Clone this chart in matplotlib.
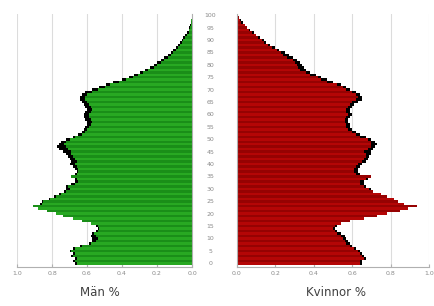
import numpy as np
import matplotlib
matplotlib.use("Agg")
import matplotlib.pyplot as plt

# ages 0..100, share of population (%) per single year of age
ages = list(range(101))

men = [0.66, 0.67, 0.66, 0.68, 0.67, 0.69, 0.67, 0.63, 0.58, 0.55,
       0.54, 0.55, 0.56, 0.54, 0.53, 0.54, 0.58, 0.63, 0.68, 0.74,
       0.78, 0.83, 0.88, 0.91, 0.86, 0.85, 0.81, 0.78, 0.75, 0.72,
       0.70, 0.71, 0.67, 0.65, 0.66, 0.69, 0.66, 0.65, 0.65, 0.66,
       0.67, 0.66, 0.67, 0.68, 0.69, 0.69, 0.71, 0.72, 0.73, 0.72,
       0.70, 0.67, 0.63, 0.61, 0.60, 0.59, 0.58, 0.57, 0.58, 0.59,
       0.59, 0.58, 0.57, 0.58, 0.59, 0.60, 0.61, 0.61, 0.60, 0.57,
       0.54, 0.50, 0.47, 0.42, 0.38, 0.34, 0.31, 0.28, 0.25, 0.22,
       0.20, 0.18, 0.16, 0.14, 0.12, 0.11, 0.09, 0.08, 0.07, 0.06,
       0.05, 0.04, 0.03, 0.02, 0.015, 0.01, 0.008, 0.005, 0.003, 0.002,
       0.001]

men_prev = [0.67, 0.68, 0.67, 0.69, 0.68, 0.70, 0.68, 0.64, 0.59, 0.57,
            0.57, 0.58, 0.57, 0.55, 0.54, 0.55, 0.58, 0.63, 0.68, 0.74,
            0.78, 0.83, 0.88, 0.91, 0.87, 0.86, 0.82, 0.79, 0.76, 0.73,
            0.72, 0.72, 0.69, 0.67, 0.67, 0.69, 0.67, 0.66, 0.67, 0.68,
            0.70, 0.69, 0.70, 0.71, 0.72, 0.74, 0.76, 0.77, 0.76, 0.75,
            0.72, 0.68, 0.65, 0.63, 0.62, 0.61, 0.60, 0.60, 0.61, 0.62,
            0.62, 0.61, 0.60, 0.61, 0.62, 0.63, 0.64, 0.64, 0.63, 0.61,
            0.57, 0.53, 0.49, 0.45, 0.40, 0.36, 0.33, 0.30, 0.27, 0.24,
            0.22, 0.20, 0.18, 0.16, 0.14, 0.12, 0.11, 0.09, 0.08, 0.07,
            0.06, 0.05, 0.04, 0.03, 0.02, 0.015, 0.01, 0.007, 0.004, 0.002,
            0.001]

women = [0.64, 0.64, 0.66, 0.65, 0.64, 0.63, 0.61, 0.59, 0.57, 0.56,
         0.55, 0.54, 0.52, 0.51, 0.50, 0.51, 0.54, 0.59, 0.66, 0.73,
         0.78, 0.85, 0.89, 0.94, 0.87, 0.84, 0.82, 0.78, 0.75, 0.71,
         0.69, 0.66, 0.64, 0.64, 0.67, 0.70, 0.62, 0.61, 0.61, 0.62,
         0.63, 0.65, 0.66, 0.67, 0.67, 0.66, 0.68, 0.70, 0.70, 0.70,
         0.68, 0.64, 0.62, 0.60, 0.58, 0.57, 0.57, 0.56, 0.56, 0.57,
         0.58, 0.57, 0.57, 0.58, 0.59, 0.60, 0.62, 0.63, 0.62, 0.60,
         0.57, 0.55, 0.52, 0.47, 0.44, 0.42, 0.38, 0.36, 0.33, 0.32,
         0.31, 0.30, 0.29, 0.26, 0.24, 0.23, 0.21, 0.18, 0.16, 0.14,
         0.13, 0.11, 0.10, 0.08, 0.06, 0.05, 0.04, 0.02, 0.015, 0.01,
         0.005]

women_prev = [0.65, 0.65, 0.67, 0.66, 0.65, 0.64, 0.62, 0.60, 0.59, 0.58,
              0.57, 0.56, 0.54, 0.52, 0.51, 0.52, 0.54, 0.59, 0.66, 0.73,
              0.78, 0.85, 0.89, 0.93, 0.87, 0.84, 0.82, 0.78, 0.75, 0.71,
              0.70, 0.67, 0.66, 0.66, 0.68, 0.70, 0.64, 0.63, 0.63, 0.64,
              0.65, 0.67, 0.68, 0.69, 0.70, 0.70, 0.71, 0.72, 0.73, 0.72,
              0.70, 0.67, 0.64, 0.62, 0.60, 0.59, 0.59, 0.58, 0.58, 0.59,
              0.60, 0.59, 0.59, 0.60, 0.61, 0.63, 0.65, 0.65, 0.64, 0.62,
              0.59, 0.57, 0.54, 0.50, 0.47, 0.44, 0.41, 0.38, 0.36, 0.35,
              0.34, 0.33, 0.31, 0.29, 0.27, 0.25, 0.22, 0.20, 0.17, 0.15,
              0.14, 0.12, 0.10, 0.09, 0.07, 0.05, 0.04, 0.03, 0.02, 0.01,
              0.005]

x_ticks = [0.0, 0.2, 0.4, 0.6, 0.8, 1.0]
x_labels = ["0.0", "0.2", "0.4", "0.6", "0.8", "1.0"]
age_ticks = list(range(0, 101, 5))

GREEN = ["#28a822", "#1a8e18"]
RED = ["#b40606", "#960202"]
GRID = "#dcdcdc"
AXC = "#b0b0b0"
TXT = "#8a8a8a"

fig = plt.figure(figsize=(4.34, 3.06), dpi=100)
ax_l = fig.add_axes([17 / 434, 1 - 267 / 306, 175 / 434, 253 / 306])
ax_r = fig.add_axes([237 / 434, 1 - 267 / 306, 192 / 434, 253 / 306])


def style(ax):
    ax.set_ylim(-1.5, 100.5)
    ax.set_xlim(0, 1.0)
    ax.set_xticks(x_ticks)
    ax.set_xticklabels(x_labels)
    ax.grid(True, axis="x", color=GRID, lw=0.8)
    ax.set_axisbelow(True)
    for s in ax.spines.values():
        s.set_visible(False)
    ax.spines["bottom"].set_visible(True)
    ax.spines["bottom"].set_color(AXC)
    ax.tick_params(axis="x", direction="in", length=2, color=AXC,
                   labelsize=4.5, labelcolor=TXT, pad=3)


cols_m = [GREEN[a % 2] for a in ages]
cols_w = [RED[a % 2] for a in ages]

ax_l.barh(ages, men_prev, height=1.0, color="black", lw=0)
ax_l.barh(ages, men, height=1.0, color=cols_m, lw=0)
style(ax_l)
ax_l.invert_xaxis()
ax_l.set_yticks([])
ax_l.spines["right"].set_visible(True)
ax_l.spines["right"].set_color(AXC)

ax_r.barh(ages, women_prev, height=1.0, color="black", lw=0)
ax_r.barh(ages, women, height=1.0, color=cols_w, lw=0)
style(ax_r)
ax_r.spines["left"].set_visible(True)
ax_r.spines["left"].set_color(AXC)
ax_r.set_yticks(age_ticks)
ax_r.set_yticklabels([str(a) for a in age_ticks], ha="center")
ax_r.tick_params(axis="y", length=0, labelsize=4.5, labelcolor=TXT, pad=19)

fig.text(100 / 434, 1 - 292 / 306, "Män %", ha="center", va="center",
         fontsize=8.5, color="#404040")
fig.text(336 / 434, 1 - 292 / 306, "Kvinnor %", ha="center", va="center",
         fontsize=8.5, color="#404040")

fig.savefig("out.png", dpi=100)
